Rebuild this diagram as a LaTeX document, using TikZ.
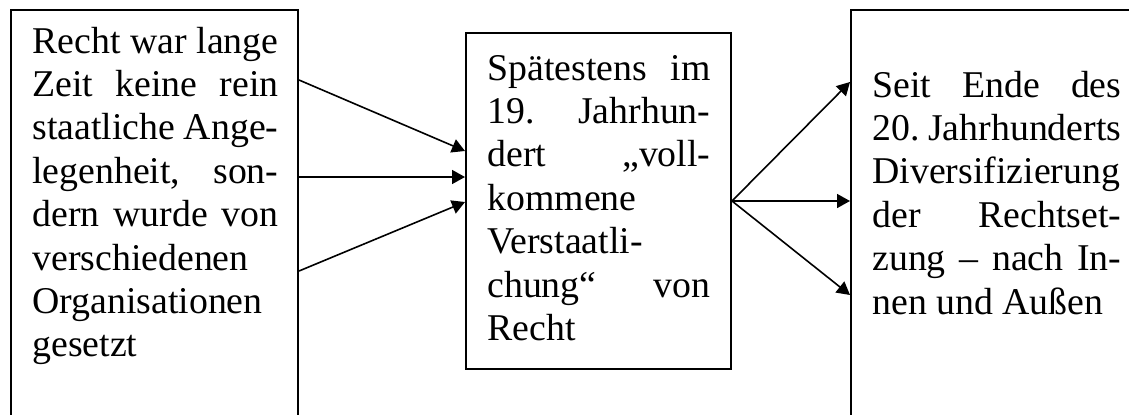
\documentclass[tikz,border=0pt]{standalone}
\usepackage{fontspec}
\setmainfont{Liberation Serif}
\usetikzlibrary{arrows.meta}
\newcommand{\boxtext}[2]{\parbox[t]{#1}{\fontsize{18.9pt}{21.7pt}\selectfont
  \tolerance=10000 \hbadness=10000 \hfuzz=5pt \hyphenpenalty=10000 \exhyphenpenalty=0
  \frenchspacing \parindent=0pt #2}}
\tikzset{
  frame/.style={draw, line width=1pt, rectangle, inner sep=0pt},
  txt/.style={inner sep=0pt, anchor=base west},
  arr/.style={line width=0.8pt, -{Triangle[length=6.5pt,width=7pt]}}
}
\begin{document}
\begin{tikzpicture}[x=0.5pt, y=-0.5pt]
\clip (0,0) rectangle (1129,414);
\fill[white] (0,0) rectangle (1129,414);
% boxes
\node[frame, minimum width=143.5pt, minimum height=210pt] (lbox) at (154.5,220) {};
\node[frame, minimum width=132.5pt, minimum height=168pt] (mbox) at (598.5,201) {};
\node[frame, minimum width=143pt, minimum height=210pt] (rbox) at (994,220) {};
% texts
\node[txt] (ltext) at (32,53) {\boxtext{123pt}{Recht war lange\linebreak
Zeit keine rein\linebreak
staatliche Ange-\linebreak
legenheit, son-\linebreak
dern wurde von\linebreak
verschiedenen\linebreak
Organisationen\linebreak
gesetzt}};
\node[txt] (mtext) at (487,80) {\boxtext{111.5pt}{Spätestens im\linebreak
19. Jahrhun-\linebreak
dert „voll-\linebreak
kommene\linebreak
Verstaatli-\linebreak
chung“ von\linebreak
Recht}};
\node[txt] (rtext) at (872,97) {\boxtext{124.5pt}{Seit Ende des\linebreak
20. Jahrhunderts\linebreak
Diversifizierung\linebreak
der Rechtset-\linebreak
zung – nach In-\linebreak
nen und Außen}};
% arrows left -> middle
\draw[arr] ([yshift=-35.5pt]lbox.north east) -- ([yshift=-59.5pt]mbox.north west);
\draw[arr] ([yshift=-84pt]lbox.north east) -- ([yshift=-72.5pt]mbox.north west);
\draw[arr] ([yshift=-131pt]lbox.north east) -- ([yshift=-85pt]mbox.north west);
% arrows middle -> right
\draw[arr] ([yshift=-84.5pt]mbox.north east) -- ([yshift=-36.5pt]rbox.north west);
\draw[arr] ([yshift=-84.5pt]mbox.north east) -- ([yshift=-96pt]rbox.north west);
\draw[arr] ([yshift=-84.5pt]mbox.north east) -- ([yshift=-143pt]rbox.north west);
\end{tikzpicture}
\end{document}
